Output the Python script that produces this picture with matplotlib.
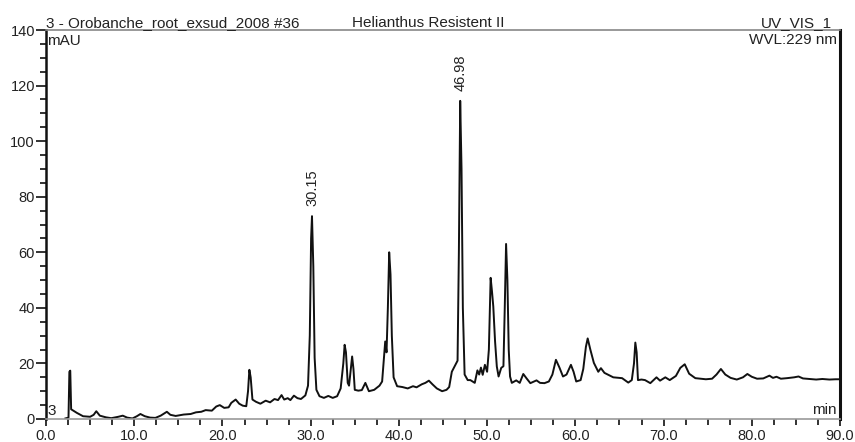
import matplotlib
matplotlib.use("Agg")
import matplotlib.pyplot as plt
from matplotlib.ticker import MultipleLocator, FormatStrFormatter

plt.rcParams['font.family'] = ['Liberation Sans', 'DejaVu Sans']

# retention time (min) and absorbance (mAU)
time_min = [
    2.2, 2.55, 2.65, 2.75, 2.85, 3.0, 3.5, 4.2, 5.0, 5.4, 5.7, 6.1, 6.8, 7.4,
    8.2, 8.7, 9.2, 9.8, 10.3, 10.7, 11.2, 11.8, 12.4, 13.0, 13.7, 14.1, 14.7,
    15.6, 16.4, 17.0, 17.6, 18.1, 18.8, 19.3, 19.7, 20.2, 20.7, 21.0, 21.5,
    21.9, 22.3, 22.7, 22.9, 23.05, 23.2, 23.4, 23.8, 24.3, 24.9, 25.4, 25.9,
    26.3, 26.7, 27.0, 27.4, 27.7, 28.1, 28.5, 28.9, 29.4, 29.7, 29.9, 30.05,
    30.15, 30.3, 30.45, 30.65, 31.0, 31.5, 32.0, 32.5, 33.0, 33.4, 33.7, 33.85,
    34.0, 34.2, 34.35, 34.55, 34.7, 34.85, 35.0, 35.4, 35.8, 36.2, 36.6, 37.2,
    37.8, 38.1, 38.3, 38.45, 38.6, 38.75, 38.9, 39.05, 39.2, 39.4, 39.8, 40.4,
    41.0, 41.6, 42.0, 42.6, 43.0, 43.4, 43.8, 44.3, 44.9, 45.4, 45.7, 46.0,
    46.4, 46.65, 46.8, 46.95, 47.1, 47.25, 47.45, 47.8, 48.1, 48.6, 48.9, 49.1,
    49.3, 49.5, 49.75, 50.0, 50.2, 50.4, 50.55, 50.7, 50.9, 51.1, 51.3, 51.6,
    51.85, 52.0, 52.15, 52.3, 52.45, 52.6, 52.8, 53.3, 53.7, 54.1, 54.5, 54.9,
    55.6, 56.0, 56.5, 57.0, 57.4, 57.8, 58.2, 58.6, 59.0, 59.5, 59.8, 60.1,
    60.6, 60.9, 61.2, 61.4, 61.7, 62.1, 62.6, 62.9, 63.3, 63.8, 64.3, 65.3,
    66.0, 66.4, 66.65, 66.8, 66.95, 67.1, 67.5, 67.9, 68.5, 69.2, 69.6, 70.2,
    70.7, 71.4, 71.9, 72.4, 72.9, 73.6, 74.8, 75.5, 76.0, 76.5, 77.0, 77.6,
    78.3, 79.0, 79.5, 80.0, 80.6, 81.3, 82.0, 82.4, 82.8, 83.3, 84.0, 84.8,
    85.3, 85.8, 86.5, 87.3, 88.0, 88.8, 89.5, 90.0,
]
signal_mau = [
    0.2, 0.5, 17.0, 17.4, 3.5, 3.2, 2.2, 1.0, 0.8, 1.5, 2.8, 1.2, 0.6, 0.3,
    0.8, 1.2, 0.5, 0.2, 1.0, 1.8, 1.0, 0.5, 0.4, 1.2, 2.6, 1.5, 1.1,
    1.6, 1.8, 2.4, 2.6, 3.2, 3.0, 4.5, 5.0, 4.0, 4.2, 5.8, 7.0,
    5.5, 4.8, 4.6, 10.0, 17.7, 15.0, 7.0, 6.2, 5.5, 6.6, 6.0, 7.2,
    6.8, 8.6, 7.0, 7.5, 6.8, 8.4, 7.5, 7.2, 8.5, 12.0, 30.0, 65.0,
    73.0, 55.0, 22.0, 10.5, 8.2, 7.6, 8.3, 7.6, 8.2, 11.0, 20.0, 26.7,
    24.0, 13.0, 12.0, 18.0, 22.5, 18.0, 10.5, 10.2, 10.4, 13.0, 10.0, 10.5,
    12.0, 13.5, 22.0, 27.9, 24.0, 40.0, 60.0, 52.0, 30.0, 15.0, 11.8, 11.5,
    11.0, 11.8, 11.4, 12.5, 13.0, 13.8, 12.5, 11.0, 10.0, 10.5, 11.5, 17.0,
    19.5, 21.0, 60.0, 114.5, 90.0, 40.0, 16.0, 14.0, 14.0, 13.0, 17.5, 16.0,
    18.5, 15.9, 19.5, 17.0, 25.0, 50.8, 46.0, 40.5, 28.0, 18.9, 15.3, 18.4,
    19.0, 40.0, 63.0, 50.0, 25.0, 15.3, 13.0, 13.9, 13.0, 16.2, 14.5, 12.9,
    13.9, 13.0, 12.9, 13.5, 16.0, 21.3, 18.5, 15.3, 16.0, 19.5, 17.0, 13.5,
    14.0, 18.0, 26.0, 29.0, 25.0, 20.2, 17.0, 18.3, 16.6, 15.8, 15.0, 14.7,
    13.1, 14.0, 20.0, 27.5, 24.0, 14.0, 14.2, 14.0, 12.9, 15.0, 13.8, 15.0,
    14.0, 15.5, 18.4, 19.7, 16.3, 14.7, 14.3, 14.5, 16.0, 18.0, 16.0, 14.8,
    14.2, 15.0, 16.2, 15.2, 14.5, 14.6, 15.6, 14.8, 15.2, 14.5, 14.7, 15.0,
    15.3, 14.6, 14.4, 14.2, 14.4, 14.2, 14.3, 14.3,
]

peak_times = [30.15, 46.98]
peak_heights = [73.0, 114.5]
peak_labels = ["30.15", "46.98"]

W, H = 855, 442
fig = plt.figure(figsize=(W / 100, H / 100), dpi=100)
ax = fig.add_axes([46 / W, 23 / H, (840 - 46) / W, (419 - 30) / H])

ax.plot(time_min, signal_mau, color="#111111", lw=1.4, solid_joinstyle="round")

ax.set_xlim(0, 90)
ax.set_ylim(0, 140)

ax.xaxis.set_major_locator(MultipleLocator(10))
ax.xaxis.set_minor_locator(MultipleLocator(2.5))
ax.xaxis.set_major_formatter(FormatStrFormatter("%.1f"))
ax.yaxis.set_major_locator(MultipleLocator(20))
ax.yaxis.set_minor_locator(MultipleLocator(5))

txt = "#222222"
ax.tick_params(axis="both", which="major", direction="out", labelsize=10.5,
               colors="#111111", labelcolor=txt, width=1.2)
ax.tick_params(axis="y", which="major", length=7, pad=1)
ax.tick_params(axis="y", which="minor", length=4, width=1.2, colors="#111111")
ax.tick_params(axis="x", which="major", length=5, pad=2)
ax.tick_params(axis="x", which="minor", length=4, width=1.2, colors="#111111")

ax.spines["left"].set_color("#111111")
ax.spines["left"].set_linewidth(1.8)
ax.spines["right"].set_color("#111111")
ax.spines["right"].set_linewidth(2.2)
ax.spines["top"].set_color("#888888")
ax.spines["top"].set_linewidth(1.2)
ax.spines["bottom"].set_color("#999999")
ax.spines["bottom"].set_linewidth(1.2)

for t, h, lab in zip(peak_times, peak_heights, peak_labels):
    ax.annotate(lab, xy=(t, h), xytext=(0, 7), textcoords="offset points",
                rotation=90, ha="center", va="bottom", fontsize=10.5, color=txt)

# header texts above the frame
fig.text(46 / W, 1 - 27 / H, "3 - Orobanche_root_exsud_2008 #36",
         ha="left", va="baseline", fontsize=11, color=txt)
fig.text(352 / W, 1 - 27 / H, "Helianthus Resistent II",
         ha="left", va="baseline", fontsize=11, color=txt)
fig.text(832 / W, 1 - 27 / H, "UV_VIS_1",
         ha="right", va="baseline", fontsize=11, color=txt)

# labels inside the frame
fig.text(47 / W, 1 - 45 / H, "mAU", ha="left", va="baseline", fontsize=11, color=txt)
fig.text(837 / W, 1 - 44 / H, "WVL:229 nm", ha="right", va="baseline", fontsize=11, color=txt)
fig.text(47 / W, 1 - 415 / H, "3", ha="left", va="baseline", fontsize=11, color=txt)
fig.text(837 / W, 1 - 414 / H, "min", ha="right", va="baseline", fontsize=11, color=txt)

fig.savefig("out.png", dpi=100)
